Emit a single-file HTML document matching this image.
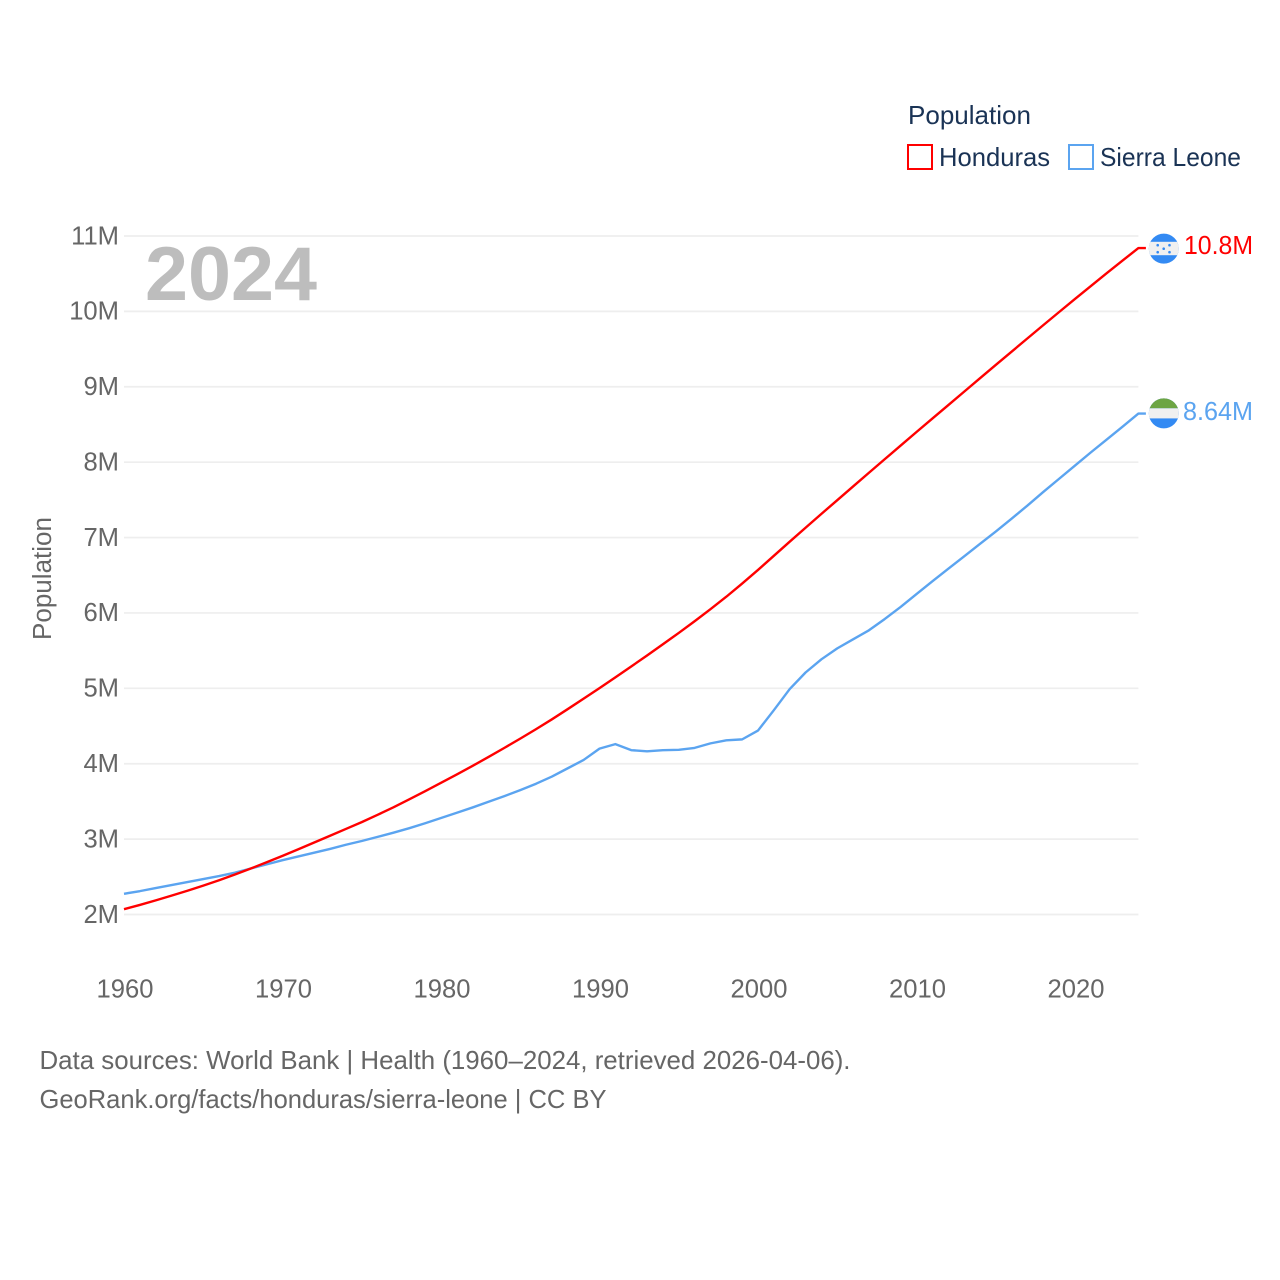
<!DOCTYPE html>
<html lang="en">
<head>
<meta charset="utf-8">
<title>Population: Honduras and Sierra Leone</title>
<style>
html,body{margin:0;padding:0;background:#fff;width:1280px;height:1280px;overflow:hidden}
svg{display:block}
text{font-family:"Liberation Sans",sans-serif}
</style>
</head>
<body>
<svg id="chart" xmlns="http://www.w3.org/2000/svg" width="1280" height="1280" viewBox="0 0 1280 1280">
  <defs>
    <clipPath id="hn-clip"><circle cx="1163.8" cy="248.6" r="15"/></clipPath>
    <clipPath id="sl-clip"><circle cx="1163.8" cy="413.4" r="15"/></clipPath>
  </defs>
  <rect width="1280" height="1280" fill="#fff"/>
  <g id="grid"></g>
  <g id="yticks"></g>
  <g id="xticks"></g>
  <text x="145" y="300" font-size="76" font-weight="700" fill="#bdbdbd" textLength="172" lengthAdjust="spacingAndGlyphs">2024</text>
  <text transform="translate(51,640) rotate(-90)" font-size="25.5" fill="#666" textLength="123" lengthAdjust="spacingAndGlyphs">Population</text>
  <g id="series"></g>

  <g clip-path="url(#hn-clip)">
    <rect x="1148" y="233" width="32" height="32" fill="#338af3"/>
    <rect x="1148" y="241.8" width="32" height="13.4" fill="#f0f0f0"/>
    <g fill="#338af3">
      <circle cx="1157.7" cy="245.2" r="1.3"/><circle cx="1169.5" cy="245.2" r="1.3"/>
      <circle cx="1163.7" cy="248.7" r="1.3"/>
      <circle cx="1157.7" cy="252.2" r="1.3"/><circle cx="1169.5" cy="252.2" r="1.3"/>
    </g>
  </g>
  <g clip-path="url(#sl-clip)">
    <rect x="1148" y="398" width="32" height="32" fill="#338af3"/>
    <rect x="1148" y="398" width="32" height="10.3" fill="#6da544"/>
    <rect x="1148" y="408.3" width="32" height="10.1" fill="#f0f0f0"/>
  </g>
  <text x="1184" y="254" font-size="25.6" fill="#ff0000" textLength="69" lengthAdjust="spacingAndGlyphs">10.8M</text>
  <text x="1183" y="420" font-size="25.6" fill="#5ba4f0" textLength="70" lengthAdjust="spacingAndGlyphs">8.64M</text>

  <g>
    <text x="908" y="124" font-size="26" fill="#1a3355" textLength="123" lengthAdjust="spacingAndGlyphs">Population</text>
    <g>
      <rect x="908" y="145" width="24" height="24" fill="#fff" stroke="#ff0000" stroke-width="2"/>
      <text x="939" y="166" font-size="26" fill="#1a3355" textLength="111" lengthAdjust="spacingAndGlyphs">Honduras</text>
    </g>
    <g>
      <rect x="1069" y="145" width="24" height="24" fill="#fff" stroke="#5ba4f0" stroke-width="2"/>
      <text x="1100" y="166" font-size="26" fill="#1a3355" textLength="141" lengthAdjust="spacingAndGlyphs">Sierra Leone</text>
    </g>
  </g>

  <text x="39.5" y="1069" font-size="25.6" fill="#666" textLength="811" lengthAdjust="spacingAndGlyphs">Data sources: World Bank | Health (1960–2024, retrieved 2026-04-06).</text>
  <text x="39.5" y="1108" font-size="25.6" fill="#666" textLength="567" lengthAdjust="spacingAndGlyphs">GeoRank.org/facts/honduras/sierra-leone | CC BY</text>
</svg>
<script>
var years = [1960,1961,1962,1963,1964,1965,1966,1967,1968,1969,1970,1971,1972,1973,1974,1975,1976,1977,1978,1979,1980,1981,1982,1983,1984,1985,1986,1987,1988,1989,1990,1991,1992,1993,1994,1995,1996,1997,1998,1999,2000,2001,2002,2003,2004,2005,2006,2007,2008,2009,2010,2011,2012,2013,2014,2015,2016,2017,2018,2019,2020,2021,2022,2023,2024];
var honduras = [2.07,2.127,2.187,2.25,2.315,2.383,2.455,2.53,2.61,2.693,2.778,2.865,2.955,3.045,3.135,3.225,3.322,3.422,3.528,3.636,3.746,3.858,3.972,4.09,4.21,4.333,4.459,4.589,4.725,4.863,5.003,5.145,5.29,5.435,5.585,5.735,5.89,6.05,6.215,6.39,6.57,6.758,6.945,7.13,7.314,7.496,7.678,7.86,8.04,8.22,8.40,8.578,8.756,8.934,9.112,9.29,9.466,9.642,9.818,9.992,10.165,10.336,10.506,10.674,10.84];
var sierraLeone = [2.275,2.31,2.35,2.39,2.43,2.47,2.51,2.555,2.61,2.665,2.72,2.77,2.82,2.87,2.925,2.975,3.03,3.085,3.145,3.21,3.28,3.35,3.42,3.495,3.57,3.65,3.735,3.83,3.94,4.05,4.20,4.26,4.18,4.165,4.18,4.185,4.21,4.27,4.31,4.323,4.44,4.71,4.99,5.21,5.385,5.53,5.65,5.77,5.92,6.08,6.25,6.42,6.585,6.75,6.915,7.08,7.25,7.425,7.605,7.78,7.955,8.13,8.30,8.47,8.645];
var yTickValues = [2,3,4,5,6,7,8,9,10,11];
var yTickLabels = ['2M','3M','4M','5M','6M','7M','8M','9M','10M','11M'];
var xTickValues = [1960,1970,1980,1990,2000,2010,2020];
var xTickLabels = ['1960','1970','1980','1990','2000','2010','2020'];

var NS = 'http://www.w3.org/2000/svg';
function xScale(year){ return 124 + (year - 1960) * 15.85; }
function yScale(millions){ return 914.5 - (millions - 2) * (914.5 - 236) / 9; }
function make(tag, attrs, parent){
  var el = document.createElementNS(NS, tag);
  for (var k in attrs) el.setAttribute(k, attrs[k]);
  parent.appendChild(el);
  return el;
}

var gridGroup = document.getElementById('grid');
var yGroup = document.getElementById('yticks');
yTickValues.forEach(function(v, i){
  var line = make('line', {x1:xScale(1960), x2:xScale(2024), y1:yScale(v), y2:yScale(v), stroke:'#eeeeee', 'stroke-width':1.7}, gridGroup);
  
  
  var t = make('text', {x:119, y:yScale(v) + 8.3, 'text-anchor':'end', 'font-size':25.6, fill:'#666'}, yGroup);
  
  
  t.textContent = yTickLabels[i];
});

var xGroup = document.getElementById('xticks');
xTickValues.forEach(function(v, i){
  var t = make('text', {x:xScale(v) + 1, y:997.5, 'text-anchor':'middle', 'font-size':25.6, fill:'#666'}, xGroup);
  
  
  t.textContent = xTickLabels[i];
});

var seriesGroup = document.getElementById('series');
function drawSeries(values, color){
  var pts = values.map(function(v, i){ return xScale(years[i]).toFixed(2) + ',' + yScale(v).toFixed(2); });
  var last = values.length - 1;
  pts.push((xScale(years[last]) + 7.5).toFixed(2) + ',' + yScale(values[last]).toFixed(2));
  return make('polyline', {points:pts.join(' '), fill:'none', stroke:color, 'stroke-width':2.4, 'stroke-linejoin':'round'}, seriesGroup);
}
var sierraLine = drawSeries(sierraLeone, '#5ba4f0');


var hondurasLine = drawSeries(honduras, '#ff0000');


</script>
</body>
</html>
